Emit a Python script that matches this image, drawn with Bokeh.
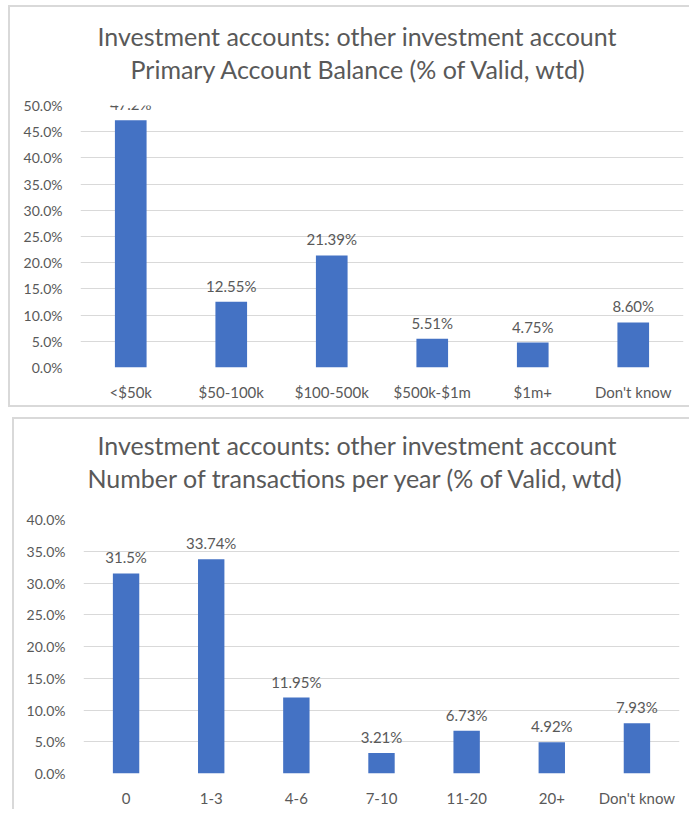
from bokeh.plotting import figure
from bokeh.models import (FactorRange, Range1d, FixedTicker, PrintfTickFormatter,
                          ColumnDataSource, LabelSet, Title, Spacer)
from bokeh.layouts import column, row
from bokeh.core.properties import value
from bokeh.embed import file_html
from bokeh.resources import INLINE

# ---- data ----
title1_a = "Investment accounts: other investment account"
title1_b = "Primary Account Balance (% of Valid, wtd)"
cats1 = ["<$50k", "$50-100k", "$100-500k", "$500k-$1m", "$1m+", "Don't know"]
vals1 = [47.2, 12.55, 21.39, 5.51, 4.75, 8.60]
labels1 = ["47.2%", "12.55%", "21.39%", "5.51%", "4.75%", "8.60%"]
ticks1 = [0, 5, 10, 15, 20, 25, 30, 35, 40, 45, 50]

title2_a = "Investment accounts: other investment account"
title2_b = "Number of transactions per year (% of Valid, wtd)"
cats2 = ["0", "1-3", "4-6", "7-10", "11-20", "20+", "Don't know"]
vals2 = [31.5, 33.74, 11.95, 3.21, 6.73, 4.92, 7.93]
labels2 = ["31.5%", "33.74%", "11.95%", "3.21%", "6.73%", "4.92%", "7.93%"]
ticks2 = [0, 5, 10, 15, 20, 25, 30, 35, 40]

FONT = "Lato"
TXT = "#595959"
GRID = "#D9D9D9"
BAR = "#4472C4"


def make_chart(cats, vals, labels, ticks, ymax, ta, tb, width, height,
               mleft, mright, mtop, mbottom, bar_w, border_styles,
               offs_a, offs_b, so_a, so_b):
    p = figure(x_range=FactorRange(*cats, range_padding=0),
               y_range=Range1d(0, ymax),
               width=width, height=height, output_backend="svg",
               toolbar_location=None, min_border_left=mleft,
               min_border_right=mright, min_border_top=mtop,
               min_border_bottom=mbottom, outline_line_color=None,
               styles=border_styles, sizing_mode="fixed")
    src = ColumnDataSource(dict(x=cats, top=vals, lab=labels))
    p.vbar(x="x", top="top", width=bar_w, source=src, fill_color=BAR,
           line_color=None)
    p.add_layout(LabelSet(x="x", y="top", text="lab", source=src,
                          text_align="center", text_baseline="middle",
                          y_offset=16, text_font=value(FONT),
                          text_font_size="15px", text_color=TXT))
    # two-line title: p.title is the upper line, the added one sits nearer the plot
    p.title = Title(text=ta, align="left", offset=offs_a, standoff=so_a,
                    text_font=FONT, text_font_size="25px",
                    text_font_style="normal", text_color=TXT)
    p.add_layout(Title(text=tb, align="left", offset=offs_b, standoff=so_b,
                       text_font=FONT, text_font_size="25px",
                       text_font_style="normal", text_color=TXT), "above")
    p.yaxis.ticker = FixedTicker(ticks=ticks)
    p.yaxis.formatter = PrintfTickFormatter(format="%.1f%%")
    for ax in (p.xaxis, p.yaxis):
        ax.axis_line_color = None
        ax.major_tick_line_color = None
        ax.minor_tick_line_color = None
        ax.major_label_text_font = FONT
        ax.major_label_text_color = TXT
    p.yaxis.major_label_standoff = 12
    p.xaxis.major_label_standoff = 9
    p.yaxis.major_label_text_font_size = "14px"
    p.xaxis.major_label_text_font_size = "15px"
    p.xgrid.grid_line_color = None
    p.ygrid.grid_line_color = GRID
    p.ygrid.grid_line_width = 1
    return p


b = "2px solid #D9D9D9"
p1 = make_chart(cats1, vals1, labels1, ticks1, 50, title1_a, title1_b,
                681, 402, 70, 8, 98, 42, 0.315,
                {"border-left": b, "border-top": b, "border-bottom": b},
                17, 50, -43, 44)
p2 = make_chart(cats2, vals2, labels2, ticks2, 40, title2_a, title2_b,
                677, 392, 69, 12, 100, 38, 0.31,
                {"border-left": b, "border-top": b},
                14, 4, -53, 54)

layout = column(Spacer(width=10, height=5),
                row(Spacer(width=8, height=10), p1, spacing=0),
                Spacer(width=10, height=10),
                row(Spacer(width=12, height=10), p2, spacing=0),
                spacing=0)

open("out.html", "w").write(file_html(layout, INLINE))
